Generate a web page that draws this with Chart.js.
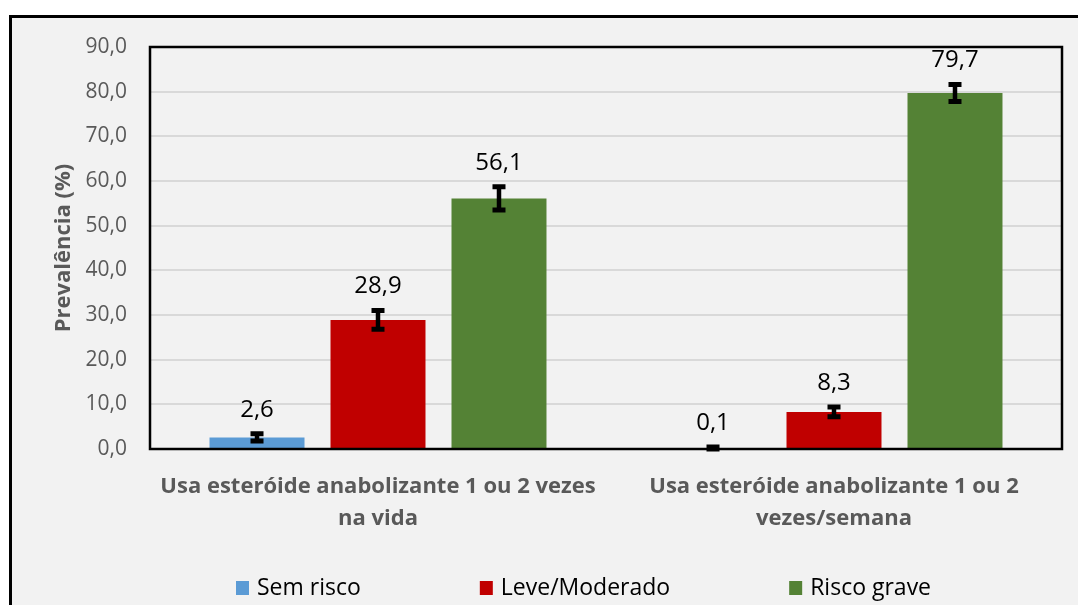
<!DOCTYPE html>
<html>
<head>
<meta charset="utf-8">
<script src="https://cdn.jsdelivr.net/npm/chart.js@4.4.1/dist/chart.umd.min.js"></script>
<style>
  html, body { margin: 0; padding: 0; background: #ffffff; overflow: hidden; }
  #frame {
    position: absolute; left: 9px; top: 15px; width: 1200px; height: 700px;
    background: #f2f2f2; border-left: 3px solid #000; border-top: 3px solid #000;
  }
  #chart { position: absolute; left: 0; top: 0; }
</style>
</head>
<body>
<div id="frame"></div>
<canvas id="chart" width="1078" height="605"></canvas>
<script>
const categories = [
  ['Usa esteróide anabolizante 1 ou 2 vezes', 'na vida'],
  ['Usa esteróide anabolizante 1 ou 2', 'vezes/semana']
];
const seriesNames = ['Sem risco', 'Leve/Moderado', 'Risco grave'];
const seriesColors = ['#5b9bd5', '#c00000', '#548235'];

const semRisco = [2.6, 0.1];
const leveModerado = [28.9, 8.3];
const riscoGrave = [56.1, 79.7];

// error bar half-widths
const semRiscoErr = [0.8, 0.35];
const leveModeradoErr = [2.1, 1.1];
const riscoGraveErr = [2.6, 1.9];

const yTicks = [0, 10, 20, 30, 40, 50, 60, 70, 80, 90];

const values = [semRisco, leveModerado, riscoGrave];
const errors = [semRiscoErr, leveModeradoErr, riscoGraveErr];

const fmt = v => v.toFixed(1).replace('.', ',');
const FONT = "'Open Sans', 'Noto Sans', sans-serif";

const errorBarsPlugin = {
  id: 'errorBars',
  afterDatasetsDraw(chart) {
    const ctx = chart.ctx;
    const y = chart.scales.y;
    ctx.save();
    chart.data.datasets.forEach((ds, di) => {
      const meta = chart.getDatasetMeta(di);
      meta.data.forEach((bar, i) => {
        const v = ds.data[i];
        const e = errors[di][i];
        const yHi = y.getPixelForValue(v + e);
        const yLo = y.getPixelForValue(Math.max(0, v - e));
        ctx.strokeStyle = '#000';
        ctx.lineWidth = 4.5;
        ctx.beginPath();
        ctx.moveTo(bar.x, yHi);
        ctx.lineTo(bar.x, yLo);
        ctx.stroke();
        ctx.lineWidth = 5;
        ctx.beginPath();
        ctx.moveTo(bar.x - 6.5, yHi);
        ctx.lineTo(bar.x + 6.5, yHi);
        ctx.moveTo(bar.x - 6.5, yLo);
        ctx.lineTo(bar.x + 6.5, yLo);
        ctx.stroke();

        ctx.fillStyle = '#000';
        ctx.font = '24px ' + FONT;
        ctx.textAlign = 'center';
        ctx.textBaseline = 'middle';
        ctx.fillText(fmt(v), bar.x, yHi - 24);
      });
    });
    ctx.restore();
  }
};

const frameAndLegendPlugin = {
  id: 'frameAndLegend',
  afterDraw(chart) {
    const ctx = chart.ctx;
    const a = chart.chartArea;
    ctx.save();
    ctx.strokeStyle = '#000';
    ctx.lineWidth = 2.5;
    ctx.strokeRect(a.left, a.top, a.right - a.left, a.bottom - a.top);

    // legend
    ctx.font = '23px ' + FONT;
    ctx.textBaseline = 'middle';
    ctx.textAlign = 'left';
    const box = 13, gapText = 8, gapItem = 119;
    let x = 236;
    const cy = 588;
    chart.data.datasets.forEach(ds => {
      ctx.fillStyle = ds.backgroundColor;
      ctx.fillRect(x, cy - 7, box, 14);
      ctx.fillStyle = '#000';
      ctx.fillText(ds.label, x + box + gapText, cy);
      x += box + gapText + ctx.measureText(ds.label).width + gapItem;
    });
    ctx.restore();
  }
};

new Chart(document.getElementById('chart'), {
  type: 'bar',
  data: {
    labels: categories,
    datasets: seriesNames.map((name, i) => ({
      label: name,
      data: values[i],
      backgroundColor: seriesColors[i],
      borderWidth: 0,
      categoryPercentage: 0.796,
      barPercentage: 0.785
    }))
  },
  options: {
    responsive: false,
    animation: false,
    layout: { padding: { left: 51, right: 16, top: 47, bottom: 0 } },
    plugins: {
      legend: { display: false },
      tooltip: { enabled: false }
    },
    scales: {
      x: {
        grid: { display: false, drawTicks: false },
        border: { display: false },
        ticks: {
          color: '#595959',
          padding: 22,
          font: { family: FONT, size: 22, weight: 'bold', lineHeight: 1.45 }
        },
        afterFit(scale) { scale.height = 156; }
      },
      y: {
        min: 0,
        max: 90,
        afterBuildTicks(scale) { scale.ticks = yTicks.map(v => ({ value: v })); },
        grid: { color: '#d9d9d9', lineWidth: 2, drawTicks: false },
        border: { display: false },
        ticks: {
          color: '#595959',
          padding: 23,
          font: { family: FONT, size: 21 },
          callback: v => fmt(v)
        },
        title: {
          display: true,
          text: 'Prevalência (%)',
          color: '#595959',
          padding: 0,
          font: { family: FONT, size: 22, weight: 'bold' }
        },
        afterFit(scale) { scale.width = 99; }
      }
    }
  },
  plugins: [errorBarsPlugin, frameAndLegendPlugin]
});
</script>
</body>
</html>
